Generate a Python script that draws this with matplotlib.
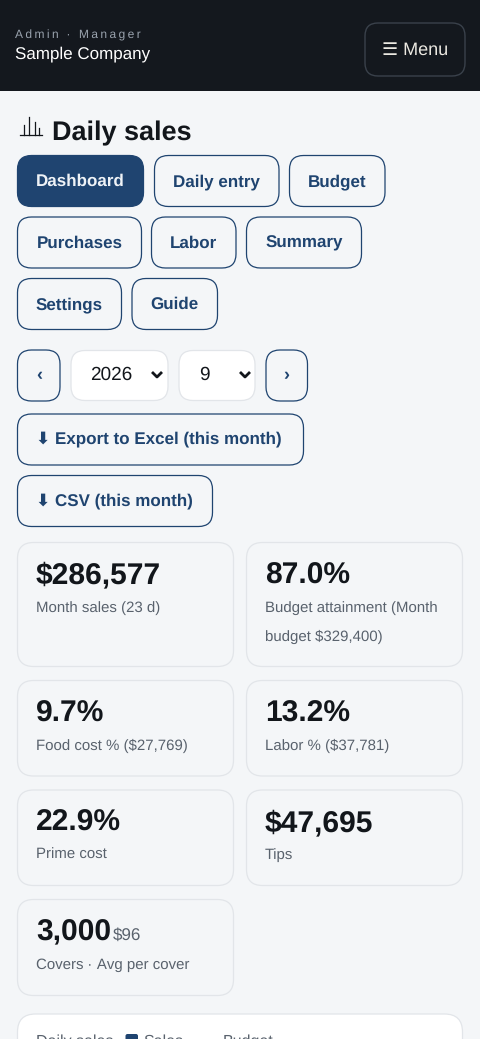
import matplotlib
matplotlib.use("Agg")
import matplotlib.pyplot as plt
from matplotlib.patches import FancyBboxPatch, Rectangle

plt.rcParams['font.family'] = ['Liberation Sans', 'DejaVu Sans']
plt.rcParams['text.hinting'] = 'no_hinting'
plt.rcParams['text.hinting_factor'] = 1

# text / values
role_text = 'Admin · Manager'
company = 'Sample Company'
menu_label = '☰ Menu'
title = 'Daily sales'
nav_labels = ['Dashboard', 'Daily entry', 'Budget', 'Purchases', 'Labor', 'Summary', 'Settings', 'Guide']
year = '2026'
month = '9'
export_labels = ['⬇ Export to Excel (this month)', '⬇ CSV (this month)']
kpi_values = ['$286,577', '87.0%', '9.7%', '13.2%', '22.9%', '$47,695', '3,000']
kpi_notes = ['Month sales (23 d)', 'Budget attainment (Month\nbudget $329,400)', 'Food cost % ($27,769)',
             'Labor % ($37,781)', 'Prime cost', 'Tips', 'Covers · Avg per cover']
avg_cover = '$96'
legend_labels = ['Daily sales', 'Sales', 'Budget']

BG = '#f4f6f8'
DARK = '#14181e'
NAVY = '#1f4470'
INK = '#12161b'
GREY = '#59626d'
LINE = '#e2e5e9'


def px(size):
    return size * 0.72


def box(x0, y0, x1, y1, r=14, fc='none', ec=NAVY, lw=1.0, z=2):
    ax.add_patch(FancyBboxPatch((x0 + r, y0 + r), x1 - x0 - 2 * r, y1 - y0 - 2 * r,
                                boxstyle=f'round,pad={r},rounding_size={r}',
                                fc=fc, ec=ec, lw=lw, zorder=z))


fig = plt.figure(figsize=(4.8, 10.39), dpi=100, facecolor=BG)
ax = fig.add_axes([0, 0, 1, 1])
ax.set_xlim(0, 480)
ax.set_ylim(1039, 0)
ax.axis('off')

# header
ax.add_patch(Rectangle((0, 0), 480, 91, fc=DARK, ec='none'))
ax.text(15, 35.5, '\u2009'.join(role_text), color='#9aa3ae', fontsize=px(12), va='center', ha='left')
ax.text(15, 54, company, color='white', fontsize=px(17.45), va='center', ha='left')
box(365, 23, 465, 76, r=13, ec='#3a414b', lw=1.0)
ax.text(415, 50, menu_label, color='#ece9e2', fontsize=px(17.6), va='center', ha='center')

# title with chart icon
ax.plot([20, 42], [135, 135], color=INK, lw=0.9)
for xi, top in zip([24, 29, 35, 39], [125, 117, 122, 128]):
    ax.plot([xi, xi], [top, 135], color=INK, lw=0.9)
ax.text(52, 133, title, color=INK, fontsize=px(27), fontweight='bold', va='center', ha='left')

# nav buttons
nav_boxes = [(17.5, 155.5, 143.5, 206.5), (154.5, 155.5, 279, 206.5), (289.5, 155.5, 385, 206.5),
             (17.5, 217, 141.5, 268), (151.5, 217, 236, 268), (246.5, 217, 361.5, 268),
             (17.5, 278.5, 121.5, 329.5), (132, 278.5, 217.5, 329.5)]
for i, (label, b) in enumerate(zip(nav_labels, nav_boxes)):
    active = i == 0
    box(*b, fc=NAVY if active else 'none', lw=0.9)
    ax.text((b[0] + b[2]) / 2, b[1] + 30.5, label, color='#eef2f6' if active else NAVY,
            fontsize=px(17.4), fontweight='bold', va='baseline', ha='center')

# month picker
box(17.5, 350, 60, 401, lw=0.9)
ax.text(39, 376, '‹', color=NAVY, fontsize=px(18), fontweight='bold', va='center', ha='center')
box(266, 350, 307.5, 401, lw=0.9)
ax.text(286.5, 376, '›', color=NAVY, fontsize=px(18), fontweight='bold', va='center', ha='center')
for x0, x1, val, tx, cx in [(71, 168, year, 111, 157), (179, 255, month, 204, 245)]:
    box(x0, 350.5, x1, 400.5, fc='white', ec=LINE, lw=0.9)
    ax.text(tx, 375, val, color=INK, fontsize=px(18.6), va='center', ha='center')
    ax.plot([cx - 5, cx, cx + 5], [372, 377, 372], color=INK, lw=2.0, solid_capstyle='butt')

# export buttons
for label, b in zip(export_labels, [(17.5, 414, 303.5, 465), (17.5, 475.5, 212.5, 526.5)]):
    box(*b, lw=0.9)
    ax.text(36, (b[1] + b[3]) / 2, label, color=NAVY, fontsize=px(17.5), fontweight='bold',
            va='center', ha='left')

# kpi cards
card_boxes = [(17.5, 542.5, 233.5, 666.5), (246.5, 542.5, 462.5, 666.5), (17.5, 680.5, 233.5, 776),
              (246.5, 680.5, 462.5, 776), (17.5, 790, 233.5, 885.5), (246.5, 790, 462.5, 885.5),
              (17.5, 899.5, 233.5, 995.5)]
for val, note, b in zip(kpi_values, kpi_notes, card_boxes):
    box(*b, r=16, ec=LINE, lw=0.9)
    ax.text(b[0] + 18.5, b[1] + 41, val, color=INK, fontsize=px(29.6), fontweight='bold', va='baseline', ha='left')
    for k, line in enumerate(note.split('\n')):
        ax.text(b[0] + 18.5, b[1] + 69 + k * 29.5, line, color=GREY, fontsize=px(14.5), va='baseline', ha='left')
ax.text(113, 935.5, avg_cover, color=GREY, fontsize=px(17), va='center', ha='left')

# chart card, cut off by the bottom of the page
box(17.5, 1014, 462.5, 1080, r=18, fc='white', ec=LINE, lw=0.9)
ax.text(36, 1041.5, legend_labels[0], color=GREY, fontsize=px(16), va='center', ha='left')
box(125.5, 1034, 138, 1046, r=2, fc=NAVY, ec='none')
ax.text(143, 1041.5, legend_labels[1], color=GREY, fontsize=px(16), va='center', ha='left')
ax.text(222.5, 1041.5, legend_labels[2], color=GREY, fontsize=px(16), va='center', ha='left')

fig.savefig('out.png', dpi=100, facecolor=BG)
